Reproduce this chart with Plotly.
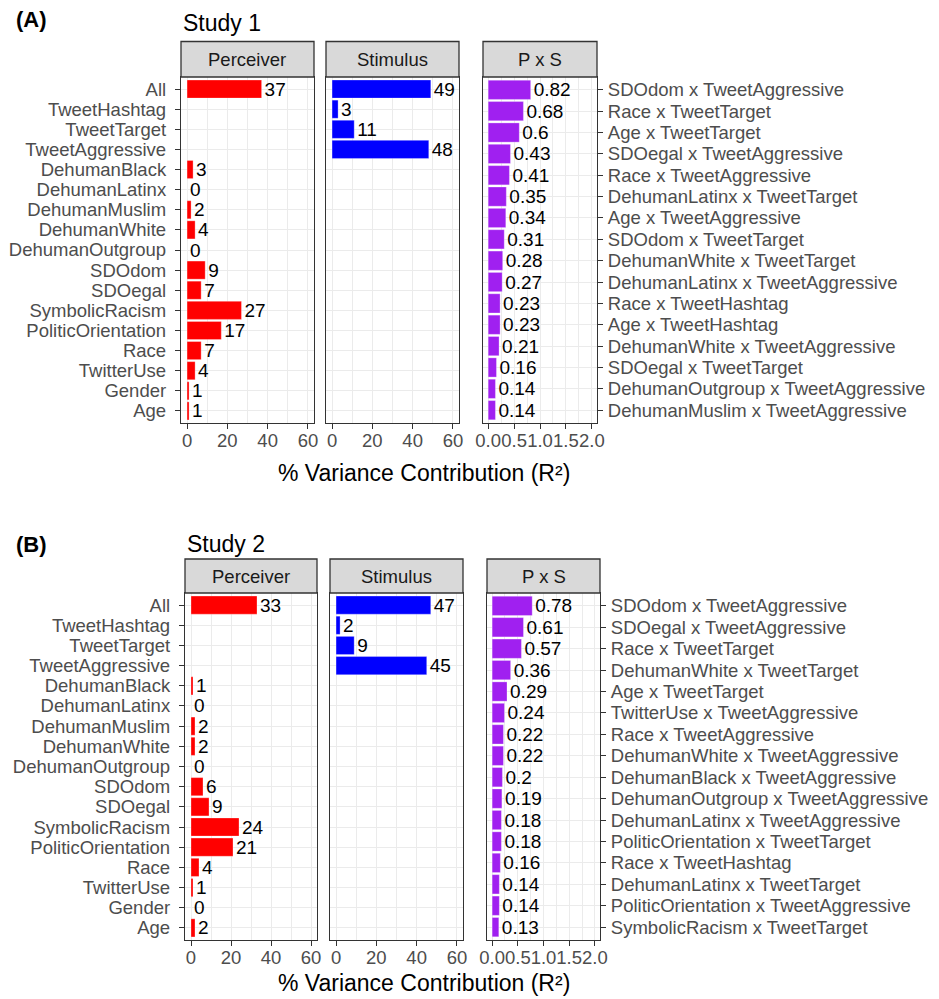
import plotly.graph_objects as go

# ---- data -----------------------------------------------------------------
predictors = ["All", "TweetHashtag", "TweetTarget", "TweetAggressive",
              "DehumanBlack", "DehumanLatinx", "DehumanMuslim", "DehumanWhite",
              "DehumanOutgroup", "SDOdom", "SDOegal", "SymbolicRacism",
              "PoliticOrientation", "Race", "TwitterUse", "Gender", "Age"]

s1_perceiver = [37, None, None, None, 3, 0, 2, 4, 0, 9, 7, 27, 17, 7, 4, 1, 1]
s1_stimulus = [49, 3, 11, 48] + [None] * 13
s1_pxs_terms = ["SDOdom x TweetAggressive", "Race x TweetTarget", "Age x TweetTarget",
                "SDOegal x TweetAggressive", "Race x TweetAggressive",
                "DehumanLatinx x TweetTarget", "Age x TweetAggressive",
                "SDOdom x TweetTarget", "DehumanWhite x TweetTarget",
                "DehumanLatinx x TweetAggressive", "Race x TweetHashtag",
                "Age x TweetHashtag", "DehumanWhite x TweetAggressive",
                "SDOegal x TweetTarget", "DehumanOutgroup x TweetAggressive",
                "DehumanMuslim x TweetAggressive"]
s1_pxs = [0.82, 0.68, 0.6, 0.43, 0.41, 0.35, 0.34, 0.31, 0.28, 0.27, 0.23, 0.23,
          0.21, 0.16, 0.14, 0.14]

s2_perceiver = [33, None, None, None, 1, 0, 2, 2, 0, 6, 9, 24, 21, 4, 1, 0, 2]
s2_stimulus = [47, 2, 9, 45] + [None] * 13
s2_pxs_terms = ["SDOdom x TweetAggressive", "SDOegal x TweetAggressive",
                "Race x TweetTarget", "DehumanWhite x TweetTarget", "Age x TweetTarget",
                "TwitterUse x TweetAggressive", "Race x TweetAggressive",
                "DehumanWhite x TweetAggressive", "DehumanBlack x TweetAggressive",
                "DehumanOutgroup x TweetAggressive", "DehumanLatinx x TweetAggressive",
                "PoliticOrientation x TweetTarget", "Race x TweetHashtag",
                "DehumanLatinx x TweetTarget", "PoliticOrientation x TweetAggressive",
                "SymbolicRacism x TweetTarget"]
s2_pxs = [0.78, 0.61, 0.57, 0.36, 0.29, 0.24, 0.22, 0.22, 0.2, 0.19, 0.18, 0.18,
          0.16, 0.14, 0.14, 0.13]

facet_names = ["Perceiver", "Stimulus", "P x S"]
facet_colors = ["#FF0000", "#0000FF", "#A020F0"]
pct_ticks = [0, 20, 40, 60]
r2_ticks = [0.0, 0.5, 1.0, 1.5, 2.0]

# ---- page geometry (pixels) -------------------------------------------------
W, H = 939, 999
FONT = "Liberation Sans, Arial, Helvetica, sans-serif"
GRID = "#ebebeb"
DARK = "#333333"
TICKTXT = "#4d4d4d"


def fx(p):
    return p / W


def fy(p):
    return 1 - p / H


studies = [
    dict(tag="(A)", title="Study 1", perceiver=s1_perceiver, stimulus=s1_stimulus,
         terms=s1_pxs_terms, pxs=s1_pxs,
         cols=[(181, 314), (326, 459), (483, 597)], strip=(41.5, 77), plot=(77, 423),
         tag_xy=(14, 20), title_xy=(181, 23), xtitle_y=473),
    dict(tag="(B)", title="Study 2", perceiver=s2_perceiver, stimulus=s2_stimulus,
         terms=s2_pxs_terms, pxs=s2_pxs,
         cols=[(185, 317), (330, 463), (487, 600)], strip=(559, 593), plot=(593, 940),
         tag_xy=(14, 544), title_xy=(185, 544), xtitle_y=983),
]


def fmt(v):
    return "" if v is None else f"{v:g}"


fig = go.Figure()
layout = dict(width=W, height=H, margin=dict(l=0, r=0, t=0, b=0, autoexpand=False),
              paper_bgcolor="white", plot_bgcolor="white", showlegend=False,
              font=dict(family=FONT), bargap=0.1)
shapes, annotations = [], []

for si, st in enumerate(studies):
    for fi in range(3):
        idx = si * 3 + fi + 1
        xa, ya = f"xaxis{idx}", f"yaxis{idx}"
        x0, x1 = st["cols"][fi]
        top, bottom = st["plot"]
        if fi < 2:
            vals = st["perceiver"] if fi == 0 else st["stimulus"]
            cats = predictors
        else:
            vals = st["pxs"]
            cats = st["terms"]
        n = len(cats)
        fig.add_trace(go.Bar(
            x=vals, y=cats, orientation="h",
            marker=dict(color=facet_colors[fi], line=dict(color="white", width=0.3)),
            width=0.9,
            text=[fmt(v) for v in vals], textposition="outside",
            outsidetextfont=dict(family=FONT, size=19, color="black"),
            constraintext="none", cliponaxis=False,
            xaxis=f"x{idx}", yaxis=f"y{idx}", hoverinfo="skip",
        ))

        if fi < 2:
            xr = [-3, 63]
            tv = pct_ticks
            tt = [str(t) for t in pct_ticks]
            minor_dt = 10
        else:
            xr = [-0.1, 2.1]
            tv = r2_ticks
            tt = [f"{t:.1f}" for t in r2_ticks]
            minor_dt = 0.25
        layout[xa] = dict(
            domain=[fx(x0), fx(x1)], anchor=f"y{idx}", range=xr,
            tickmode="array", tickvals=tv, ticktext=tt, tickangle=0,
            ticklabelstandoff=-4,
            showgrid=True, gridcolor=GRID, gridwidth=1.2,
            minor=dict(dtick=minor_dt, tick0=0, showgrid=True, gridcolor=GRID, gridwidth=0.7),
            showline=True, mirror=True, linecolor=DARK, linewidth=1.3,
            ticks="outside", ticklen=5, tickcolor=DARK, tickwidth=1.1,
            tickfont=dict(family=FONT, size=18.5, color=TICKTXT),
            zeroline=False, fixedrange=True, automargin=False,
        )
        layout[ya] = dict(
            domain=[fy(bottom), fy(top)], anchor=f"x{idx}",
            type="category", categoryorder="array", categoryarray=cats,
            tickmode="array", tickvals=cats, ticktext=cats,
            range=[n - 1 + 0.6, -0.6],
            ticklabelstandoff=5 if fi == 0 else 1,
            showgrid=True, gridcolor=GRID, gridwidth=1.2,
            showline=True, mirror=True, linecolor=DARK, linewidth=1.3,
            ticks="outside" if fi != 1 else "", ticklen=5, tickcolor=DARK, tickwidth=1.1,
            showticklabels=(fi != 1), side="right" if fi == 2 else "left",
            tickfont=dict(family=FONT, size=18.5, color=TICKTXT),
            zeroline=False, fixedrange=True, automargin=False,
        )

        # facet strip
        s_top, s_bot = st["strip"]
        shapes.append(dict(type="rect", xref="paper", yref="paper",
                           x0=fx(x0), x1=fx(x1), y0=fy(s_bot), y1=fy(s_top),
                           fillcolor="#d9d9d9", line=dict(color=DARK, width=1.3)))
        annotations.append(dict(xref="paper", yref="paper", x=fx((x0 + x1) / 2),
                                y=fy((s_top + s_bot) / 2), text=facet_names[fi],
                                showarrow=False, xanchor="center", yanchor="middle",
                                font=dict(family=FONT, size=18.5, color="#1a1a1a")))

    # panel tag, study title, shared x-axis title
    annotations.append(dict(xref="paper", yref="paper", x=fx(st["tag_xy"][0]),
                            y=fy(st["tag_xy"][1]), text=f"<b>{st['tag']}</b>",
                            showarrow=False, xanchor="left", yanchor="middle",
                            font=dict(family=FONT, size=22, color="black")))
    annotations.append(dict(xref="paper", yref="paper", x=fx(st["title_xy"][0]),
                            y=fy(st["title_xy"][1]), text=st["title"],
                            showarrow=False, xanchor="left", yanchor="middle",
                            font=dict(family=FONT, size=23, color="black")))
    annotations.append(dict(xref="paper", yref="paper", x=fx(424), y=fy(st["xtitle_y"]),
                            text="% Variance Contribution (R²)",
                            showarrow=False, xanchor="center", yanchor="middle",
                            font=dict(family=FONT, size=23, color="black")))

layout["shapes"] = shapes
layout["annotations"] = annotations
fig.update_layout(**layout)
fig.write_html("out.html")
